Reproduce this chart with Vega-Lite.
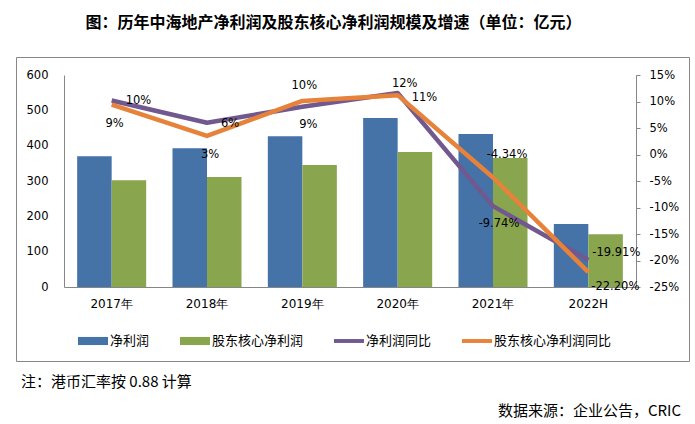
{
  "$schema": "https://vega.github.io/schema/vega-lite/v6.json",
  "background": "white",
  "padding": {"left": 15, "top": 14, "right": 0, "bottom": 0},
  "spacing": 13,
  "config": {
    "font": "DejaVu Sans",
    "axis": {"labelColor": "#000000", "domainColor": "#868686", "grid": false, "labelFont": "DejaVu Sans"},
    "title": {"color": "#000000"}
  },
  "datasets": {
    "bars": [
      {"year": "2017年", "series": "净利润", "value": 370},
      {"year": "2017年", "series": "股东核心净利润", "value": 302},
      {"year": "2018年", "series": "净利润", "value": 393},
      {"year": "2018年", "series": "股东核心净利润", "value": 311},
      {"year": "2019年", "series": "净利润", "value": 427},
      {"year": "2019年", "series": "股东核心净利润", "value": 345},
      {"year": "2020年", "series": "净利润", "value": 478},
      {"year": "2020年", "series": "股东核心净利润", "value": 382},
      {"year": "2021年", "series": "净利润", "value": 433},
      {"year": "2021年", "series": "股东核心净利润", "value": 365},
      {"year": "2022H", "series": "净利润", "value": 178},
      {"year": "2022H", "series": "股东核心净利润", "value": 149}
    ],
    "lines": [
      {"year": "2017年", "series": "净利润同比", "pct": 10.2, "label": "10%"},
      {"year": "2018年", "series": "净利润同比", "pct": 6.0, "label": "6%"},
      {"year": "2019年", "series": "净利润同比", "pct": 9.0, "label": "9%"},
      {"year": "2020年", "series": "净利润同比", "pct": 11.6, "label": "12%"},
      {"year": "2021年", "series": "净利润同比", "pct": -9.74, "label": "-9.74%"},
      {"year": "2022H", "series": "净利润同比", "pct": -19.91, "label": "-19.91%"},
      {"year": "2017年", "series": "股东核心净利润同比", "pct": 9.4, "label": "9%"},
      {"year": "2018年", "series": "股东核心净利润同比", "pct": 3.5, "label": "3%"},
      {"year": "2019年", "series": "股东核心净利润同比", "pct": 10.1, "label": "10%"},
      {"year": "2020年", "series": "股东核心净利润同比", "pct": 11.2, "label": "11%"},
      {"year": "2021年", "series": "股东核心净利润同比", "pct": -4.34, "label": "-4.34%"},
      {"year": "2022H", "series": "股东核心净利润同比", "pct": -22.2, "label": "-22.20%"}
    ]
  },
  "vconcat": [
    {
      "width": 673,
      "height": 304,
      "view": {"stroke": "#868686", "strokeWidth": 1},
      "title": {
        "text": "图：历年中海地产净利润及股东核心净利润规模及增速（单位：亿元）",
        "font": "Noto Sans CJK SC",
        "fontSize": 16,
        "fontWeight": "bold",
        "anchor": "middle",
        "dx": -19,
        "offset": 26,
        "color": "#000000"
      },
      "layer": [
        {
          "data": {"name": "bars"},
          "mark": {"type": "bar"},
          "encoding": {
            "x": {
              "field": "year",
              "type": "nominal",
              "sort": null,
              "scale": {"domain": ["2017年", "2018年", "2019年", "2020年", "2021年", "2022H"], "range": [48, 620], "paddingInner": 0.276, "paddingOuter": 0.138},
              "axis": {"title": null, "orient": "bottom", "offset": -74, "ticks": false, "labelPadding": 11, "labelFontSize": 12, "labelAngle": 0, "domainColor": "#868686", "labelColor": "#000000"}
            },
            "xOffset": {"field": "series", "type": "nominal", "scale": {"domain": ["净利润", "股东核心净利润"], "paddingInner": 0, "paddingOuter": 0}},
            "y": {
              "field": "value",
              "type": "quantitative",
              "scale": {"domain": [0, 600], "range": [230, 18], "nice": false, "zero": true},
              "axis": {"title": null, "orient": "left", "offset": -48, "ticks": false, "labelPadding": 16, "labelFontSize": 11.5, "values": [0, 100, 200, 300, 400, 500, 600], "domainColor": "#868686", "labelColor": "#000000"}
            },
            "color": {
              "field": "series",
              "type": "nominal",
              "scale": {"domain": ["净利润", "股东核心净利润", "净利润同比", "股东核心净利润同比"], "range": ["#4572A7", "#89A54E", "#71588F", "#E6823A"]},
              "legend": {
                "orient": "none",
                "legendX": 62,
                "legendY": 269,
                "direction": "horizontal",
                "title": null,
                "padding": 0,
                "columnPadding": 30,
                "symbolSize": 900,
                "symbolStrokeWidth": 0,
                "labelFont": "Noto Sans CJK SC",
                "labelFontSize": 13,
                "labelColor": "#000000",
                "labelOffset": 2,
                "encode": {
                  "symbols": {
                    "update": {
                      "shape": {"signal": "indexof(['净利润','股东核心净利润'], datum.value) >= 0 ? 'M-1,-0.27H1V0.27H-1Z' : 'M-1,-0.13H1V0.13H-1Z'"},
                      "fill": {"scale": "color", "field": "value"},
                      "stroke": {"value": "transparent"},
                      "opacity": {"value": 1},
                      "fillOpacity": {"value": 1}
                    }
                  }
                }
              }
            }
          }
        },
        {
          "data": {"name": "lines"},
          "encoding": {
            "x": {
              "field": "year",
              "type": "nominal",
              "sort": null,
              "axis": {"title": null, "orient": "bottom", "offset": -74, "ticks": false, "labelPadding": 11, "labelFontSize": 12, "labelAngle": 0, "domainColor": "#868686", "labelColor": "#000000"}
            },
            "y": {
              "field": "pct",
              "type": "quantitative",
              "scale": {"domain": [-25, 15], "range": [230, 18], "nice": false, "zero": false},
              "axis": {"title": null, "orient": "right", "offset": -53, "tickSize": 4, "tickColor": "#868686", "labelPadding": 9, "labelFontSize": 11.5, "labelAlign": "left", "labelOverlap": false, "labelFlush": false, "values": [-25, -20, -15, -10, -5, 0, 5, 10, 15], "labelExpr": "datum.value + '%'", "domainColor": "#868686", "labelColor": "#000000"}
            }
          },
          "layer": [
            {
              "mark": {"type": "line", "strokeWidth": 4.5, "strokeJoin": "round"},
              "encoding": {
                "color": {
                  "field": "series",
                  "type": "nominal",
                  "scale": {"domain": ["净利润", "股东核心净利润", "净利润同比", "股东核心净利润同比"], "range": ["#4572A7", "#89A54E", "#71588F", "#E6823A"]},
                  "legend": {
                    "orient": "none",
                    "legendX": 62,
                    "legendY": 269,
                    "direction": "horizontal",
                    "title": null,
                    "padding": 0,
                    "columnPadding": 30,
                    "symbolSize": 900,
                    "symbolStrokeWidth": 0,
                    "labelFont": "Noto Sans CJK SC",
                    "labelFontSize": 13,
                    "labelColor": "#000000",
                    "labelOffset": 2,
                    "encode": {
                      "symbols": {
                        "update": {
                          "shape": {"signal": "indexof(['净利润','股东核心净利润'], datum.value) >= 0 ? 'M-1,-0.27H1V0.27H-1Z' : 'M-1,-0.13H1V0.13H-1Z'"},
                          "fill": {"scale": "color", "field": "value"},
                          "stroke": {"value": "transparent"},
                          "opacity": {"value": 1},
                          "fillOpacity": {"value": 1}
                        }
                      }
                    }
                  }
                }
              }
            },
            {
              "transform": [{"filter": {"field": "series", "equal": "净利润同比"}}, {"filter": {"field": "year", "oneOf": ["2017年", "2018年"]}}],
              "mark": {"type": "text", "align": "left", "baseline": "middle", "dx": 14, "dy": 1, "fontSize": 11.5, "color": "#000000"},
              "encoding": {"text": {"field": "label"}}
            },
            {
              "transform": [{"filter": {"field": "series", "equal": "净利润同比"}}, {"filter": {"field": "year", "oneOf": ["2019年", "2021年"]}}],
              "mark": {"type": "text", "align": "center", "baseline": "middle", "dx": 6, "dy": 18, "fontSize": 11.5, "color": "#000000"},
              "encoding": {"text": {"field": "label"}}
            },
            {
              "transform": [{"filter": {"field": "series", "equal": "净利润同比"}}, {"filter": {"field": "year", "oneOf": ["2020年"]}}],
              "mark": {"type": "text", "align": "center", "baseline": "middle", "dx": 7, "dy": -9, "fontSize": 11.5, "color": "#000000"},
              "encoding": {"text": {"field": "label"}}
            },
            {
              "transform": [{"filter": {"field": "series", "equal": "净利润同比"}}, {"filter": {"field": "year", "oneOf": ["2022H"]}}],
              "mark": {"type": "text", "align": "left", "baseline": "middle", "dx": 4, "dy": -7, "fontSize": 11.5, "color": "#000000"},
              "encoding": {"text": {"field": "label"}}
            },
            {
              "transform": [{"filter": {"field": "series", "equal": "股东核心净利润同比"}}, {"filter": {"field": "year", "oneOf": ["2017年", "2018年"]}}],
              "mark": {"type": "text", "align": "center", "baseline": "middle", "dx": 3, "dy": 19, "fontSize": 11.5, "color": "#000000"},
              "encoding": {"text": {"field": "label"}}
            },
            {
              "transform": [{"filter": {"field": "series", "equal": "股东核心净利润同比"}}, {"filter": {"field": "year", "oneOf": ["2019年"]}}],
              "mark": {"type": "text", "align": "center", "baseline": "middle", "dx": 2, "dy": -15, "fontSize": 11.5, "color": "#000000"},
              "encoding": {"text": {"field": "label"}}
            },
            {
              "transform": [{"filter": {"field": "series", "equal": "股东核心净利润同比"}}, {"filter": {"field": "year", "oneOf": ["2020年"]}}],
              "mark": {"type": "text", "align": "left", "baseline": "middle", "dx": 14, "dy": 3, "fontSize": 11.5, "color": "#000000"},
              "encoding": {"text": {"field": "label"}}
            },
            {
              "transform": [{"filter": {"field": "series", "equal": "股东核心净利润同比"}}, {"filter": {"field": "year", "oneOf": ["2021年"]}}],
              "mark": {"type": "text", "align": "center", "baseline": "middle", "dx": 14, "dy": -23, "fontSize": 11.5, "color": "#000000"},
              "encoding": {"text": {"field": "label"}}
            },
            {
              "transform": [{"filter": {"field": "series", "equal": "股东核心净利润同比"}}, {"filter": {"field": "year", "oneOf": ["2022H"]}}],
              "mark": {"type": "text", "align": "left", "baseline": "middle", "dx": 3, "dy": 15, "fontSize": 11.5, "color": "#000000"},
              "encoding": {"text": {"field": "label"}}
            }
          ]
        }
      ],
      "resolve": {"scale": {"y": "independent"}}
    },
    {
      "width": 673,
      "height": 1,
      "view": {"stroke": null},
      "title": {"text": "注：港币汇率按 0.88 计算", "font": "Noto Sans CJK SC", "fontSize": 15, "fontWeight": "normal", "anchor": "start", "dx": 5, "offset": 0, "color": "#000000"},
      "data": {"values": []},
      "mark": "rule",
      "encoding": {}
    },
    {
      "width": 673,
      "height": 1,
      "view": {"stroke": null},
      "title": {"text": "数据来源：企业公告，CRIC", "font": "Noto Sans CJK SC", "fontSize": 15, "fontWeight": "normal", "anchor": "end", "dx": -8, "offset": 0, "color": "#000000"},
      "data": {"values": []},
      "mark": "rule",
      "encoding": {}
    }
  ]
}
